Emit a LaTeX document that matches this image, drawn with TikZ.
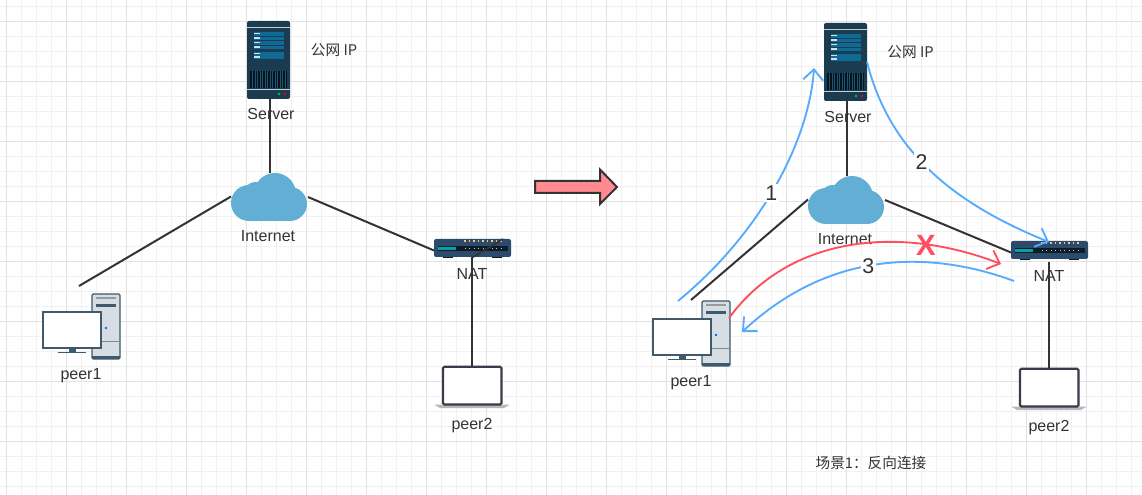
\documentclass[tikz,border=0pt]{standalone}
\usepackage{fontspec}
\setmainfont{Liberation Sans}
\newfontfamily\cjk{Noto Sans CJK SC}
\usetikzlibrary{arrows.meta}

\definecolor{gridminor}{HTML}{F1F1F1}
\definecolor{gridmajor}{HTML}{E2E2E2}
\definecolor{ink}{HTML}{333333}
\definecolor{flowblue}{HTML}{55ACFF}
\definecolor{flowred}{HTML}{FF4F5E}
\definecolor{arrowpink}{HTML}{FF8A90}
\definecolor{cloudblue}{HTML}{63AED4}
\definecolor{serverbody}{HTML}{1A3B50}
\definecolor{serverpanel}{HTML}{0F6A96}
\definecolor{routerbody}{HTML}{2B4A6C}
\definecolor{towergray}{HTML}{D6DDE3}
\definecolor{iconedge}{HTML}{3F5A6C}
\definecolor{laptopedge}{HTML}{3A3A4A}

\tikzset{
	label/.style={text=ink,font=\fontsize{12}{14}\selectfont,inner sep=0pt},
	cjklabel/.style={text=ink,font=\cjk\fontsize{11}{13}\selectfont,inner sep=0pt},
	number/.style={text=ink,font=\fontsize{16}{18}\selectfont,fill=white,inner sep=1pt},
	link/.style={draw=ink,line width=1.5pt},
	flow/.style={draw=flowblue,line width=1.4pt,-{Straight Barb[length=8pt,width=15pt,line width=1.4pt]}},
	badflow/.style={flow,draw=flowred},
	serverpic/.pic={
		\fill[serverbody,rounded corners=1.5pt] (0,0) rectangle (43,78);
		\fill[white!75!serverbody] (0,6) rectangle (43,6.8);
		\fill[serverpanel] (6.7,11) rectangle (37,28);
		\fill[serverpanel] (6.7,31) rectangle (37,38);
		\foreach \y in {12.5,17,21.5,26,32.5,36}
			\fill[white!80!serverpanel] (6.7,\y-.6) rectangle (13,\y+.6);
		\foreach \y in {15,19.5,24}
			\fill[serverbody] (6.7,\y-.3) rectangle (37,\y+.3);
		\fill[black!70!serverbody] (3,50) rectangle (40,67);
		\foreach \x in {5,7.5,...,38}
			\fill[serverpanel!60!serverbody] (\x,50) rectangle (\x+.7,67);
		\fill[white!75!serverbody] (0,68) rectangle (43,68.8);
		\fill[green!55!teal] (32,73) circle (1.4);
		\fill[red!70!purple] (38,73) circle (1.4);
		\coordinate (-bot) at (22.5,78);
	},
	cloudpic/.pic={
		\fill[cloudblue] (18,30) circle (18);
		\fill[cloudblue] (25,23) circle (14);
		\fill[cloudblue] (44,21) circle (21);
		\fill[cloudblue] (59,31) circle (17);
		\fill[cloudblue] (18,30) rectangle (59,48);
		\coordinate (-top) at (38.5,0);
		\coordinate (-west) at (0,23.5);
		\coordinate (-east) at (77,24);
	},
	routerpic/.pic={
		\fill[black!70!routerbody] (9,17) rectangle (19,19.5);
		\fill[black!70!routerbody] (58,17) rectangle (68,19.5);
		\fill[routerbody,rounded corners=1.5pt] (0,0) rectangle (77,18);
		\fill[black!55!serverbody] (4.3,7) rectangle (74,11.6);
		\fill[teal!70!cyan] (4.3,8) rectangle (22,10.6);
		\foreach \x in {31,35.5,...,68} {
			\fill[orange!50!white] (\x-.8,.6) rectangle (\x+.8,3.5);
			\fill[white!70!teal] (\x-.5,8.8) rectangle (\x+.5,9.8);
		}
		\coordinate (-west) at (0,11.5);
		\coordinate (-bot) at (37.5,19);
	},
	deskpic/.pic={
		\draw[iconedge,line width=.9pt,fill=towergray,rounded corners=1pt] (49,0) rectangle (77,65);
		\fill[iconedge] (49,62) rectangle (77,65);
		\fill[black!30!towergray] (53,3.5) rectangle (73,5);
		\fill[iconedge] (53,10) rectangle (73,13);
		\draw[iconedge!70,line width=.6pt] (49,47) -- (77,47);
		\fill[blue!60!cyan] (63,34) circle (1.3);
		\fill[iconedge] (25.5,54) rectangle (32.5,58);
		\fill[iconedge] (15,58) rectangle (43,59.3);
		\draw[iconedge,line width=.9pt,fill=white] (0,18) rectangle (58,54);
	},
	laptoppic/.pic={
		\fill[black!28] (0,38.5) -- (76,38.5) -- (70,42) -- (6,42) -- cycle;
		\draw[laptopedge,line width=1.6pt,fill=white,rounded corners=1pt] (9,.8) rectangle (67.5,38.5);
		\coordinate (-top) at (37.5,0);
	}
}

\begin{document}
\begin{tikzpicture}[x=.75pt,y=-.75pt]
	\useasboundingbox (0,0) rectangle (1142,495);
	\fill[white] (0,0) rectangle (1142,495);

	\foreach \k in {0,...,76}
		\draw[gridminor,line width=.75pt] (6.7+15*\k,0) -- (6.7+15*\k,495);
	\foreach \k in {0,...,32}
		\draw[gridminor,line width=.75pt] (0,6.7+15*\k) -- (1142,6.7+15*\k);
	\foreach \k in {0,...,19}
		\draw[gridmajor,line width=.75pt] (6.7+60*\k,0) -- (6.7+60*\k,495);
	\foreach \k in {0,...,8}
		\draw[gridmajor,line width=.75pt] (0,21.7+60*\k) -- (1142,21.7+60*\k);

	% left network
	\pic (serverA) at (247,21) {serverpic};
	\pic (cloudA) at (231,173) {cloudpic};
	\pic (natA) at (434,239) {routerpic};
	\pic (peerA) at (43,294) {deskpic};
	\pic (lapA) at (434,366) {laptoppic};
	\coordinate (peerAend) at (79,286);
	\coordinate (natAtick) at (503,239);

	\node[label] (serverAtext) at (271,114) {Server};
	\node[label] (cloudAtext) at (268,236) {Internet};
	\node[label] (natAtext) at (472,274) {NAT};
	\node[label] (peerAtext) at (81,375.5) {peer1};
	\node[label] (lapAtext) at (472,425.5) {peer2};
	\node[cjklabel] (ipAtext) at (334,50) {公网 IP};

	\draw[link] (serverA-bot) -- (cloudA-top);
	\draw[link] (cloudA-west) -- (peerAend);
	\draw[link] (cloudA-east) -- (natA-west);
	\draw[link] (natA-bot) -- (lapA-top);
	\draw[link,line width=1.2pt] (natA-bot) -- (natAtick);

	% step arrow
	\draw[draw=ink,line width=1.5pt,fill=arrowpink,miter limit=8] (535,181) -- (600,181) -- (600,169.5) -- (617,187) -- (600,204) -- (600,193) -- (535,193) -- cycle;

	% right network
	\pic (serverB) at (824,23) {serverpic};
	\pic (cloudB) at (808,176) {cloudpic};
	\pic (natB) at (1011,241) {routerpic};
	\pic (peerB) at (653,301) {deskpic};
	\pic (lapB) at (1011,368) {laptoppic};
	\coordinate (peerBend) at (691,300);
	\coordinate (natBdrop) at (1048.5,262);

	\node[label] (serverBtext) at (848,117) {Server};
	\node[label] (cloudBtext) at (845,239) {Internet};
	\node[label] (natBtext) at (1049,276) {NAT};
	\node[label] (peerBtext) at (691,382.5) {peer1};
	\node[label] (lapBtext) at (1049,427.5) {peer2};
	\node[cjklabel] (ipBtext) at (910.5,52) {公网 IP};
	\node[cjklabel] (scenetext) at (871,463) {场景1：反向连接};

	\draw[link] (serverB-bot) -- (cloudB-top);
	\draw[link] (cloudB-west) -- (peerBend);
	\draw[link] (cloudB-east) -- (natB-west);
	\draw[link] (natBdrop) -- (lapB-top);

	% flows
	\coordinate (flowAstart) at (678,301);
	\coordinate (flowAend) at (814,68);
	\coordinate (flowBstart) at (867,62);
	\coordinate (flowBend) at (1049,242);
	\coordinate (flowCstart) at (729,318);
	\coordinate (flowCend) at (1001,264);
	\coordinate (flowDstart) at (1014,281);
	\coordinate (flowDend) at (742,332);

	\draw[flow] (flowAstart) .. controls (762,232) and (809,140) .. node[number,pos=.47] (flowAtext) {1} (flowAend);
	\draw[flow] (flowBstart) .. controls (888,145) and (945,200) .. node[number,pos=.47] (flowBtext) {2} (flowBend);
	\draw[badflow] (flowCstart) .. controls (790,235) and (900,225) .. (flowCend);
	\draw[flow] (flowDstart) .. controls (930,250) and (830,250) .. node[number,pos=.54] (flowDtext) {3} (flowDend);
	\node[text=flowred,font=\bfseries\fontsize{22}{24}\selectfont,inner sep=0pt] (blockmark) at (926,245.5) {X};
\end{tikzpicture}
\end{document}
